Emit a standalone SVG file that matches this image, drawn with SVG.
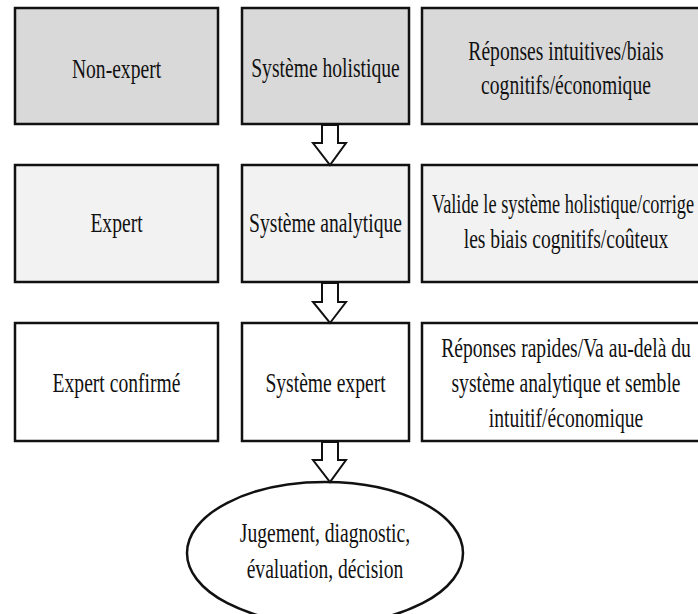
<svg xmlns="http://www.w3.org/2000/svg" width="698" height="614" viewBox="0 0 698 614">
<style>
.box{stroke:#111;stroke-width:2.5}
.r1{fill:#d9d9d9}
.r2{fill:#f2f2f2}
.r3{fill:#ffffff}
.t{font-family:"Liberation Serif","Times New Roman",serif;font-size:28px;fill:#111;text-anchor:middle}
.arr{fill:#ffffff;stroke:#111;stroke-width:2;stroke-linejoin:miter}
</style>
<rect width="698" height="614" fill="#ffffff"/>
<g id="non-expert"><rect class="box r1" x="15" y="8" width="203" height="116"/><text class="t" transform="translate(116.5,78) scale(0.7,1)">Non-expert</text></g>
<g id="systeme-holistique"><rect class="box r1" x="242" y="8" width="167" height="116"/><text class="t" transform="translate(325.5,77) scale(0.7,1)">Système holistique</text></g>
<g id="reponses-intuitives"><rect class="box r1" x="422" y="8" width="290" height="116"/><text class="t" transform="translate(566,60) scale(0.7,1)"><tspan x="0" y="0">Réponses intuitives/biais</tspan><tspan x="0" y="34">cognitifs/économique</tspan></text></g>
<g id="expert"><rect class="box r2" x="15" y="165" width="203" height="117"/><text class="t" transform="translate(116.5,232) scale(0.7,1)">Expert</text></g>
<g id="systeme-analytique"><rect class="box r2" x="242" y="165" width="167" height="117"/><text class="t" transform="translate(325.5,232) scale(0.7,1)">Système analytique</text></g>
<g id="valide"><rect class="box r2" x="422" y="165" width="290" height="117"/><text class="t" transform="translate(563,213) scale(0.655,1)"><tspan x="0" y="0">Valide le système holistique/corrige</tspan></text><text class="t" transform="translate(566,248) scale(0.7,1)">les biais cognitifs/coûteux</text></g>
<g id="expert-confirme"><rect class="box r3" x="15" y="323" width="203" height="118"/><text class="t" transform="translate(116.5,392) scale(0.7,1)">Expert confirmé</text></g>
<g id="systeme-expert"><rect class="box r3" x="242" y="323" width="167" height="118"/><text class="t" transform="translate(325.5,392) scale(0.7,1)">Système expert</text></g>
<g id="reponses-rapides"><rect class="box r3" x="422" y="323" width="290" height="118"/><text class="t" transform="translate(566,357) scale(0.7,1)"><tspan x="0" y="0">Réponses rapides/Va au-delà du</tspan><tspan x="0" y="35">système analytique et semble</tspan><tspan x="0" y="70">intuitif/économique</tspan></text></g>
<g id="decision"><ellipse cx="325" cy="553" rx="138" ry="71" fill="#ffffff" stroke="#111" stroke-width="2.5"/><text class="t" transform="translate(325,542) scale(0.7,1)"><tspan x="0" y="0">Jugement, diagnostic,</tspan><tspan x="0" y="36">évaluation, décision</tspan></text></g>
<g id="connectors">
<polygon class="arr" points="322,125 338,125 338,143 346,143 330,165 313,143 322,143"/>
<polygon class="arr" points="322,283 338,283 338,302 346,302 330,323 313,302 322,302"/>
<polygon class="arr" points="322,442 338,442 338,460 346,460 330,482 313,460 322,460"/>
</g>
</svg>
